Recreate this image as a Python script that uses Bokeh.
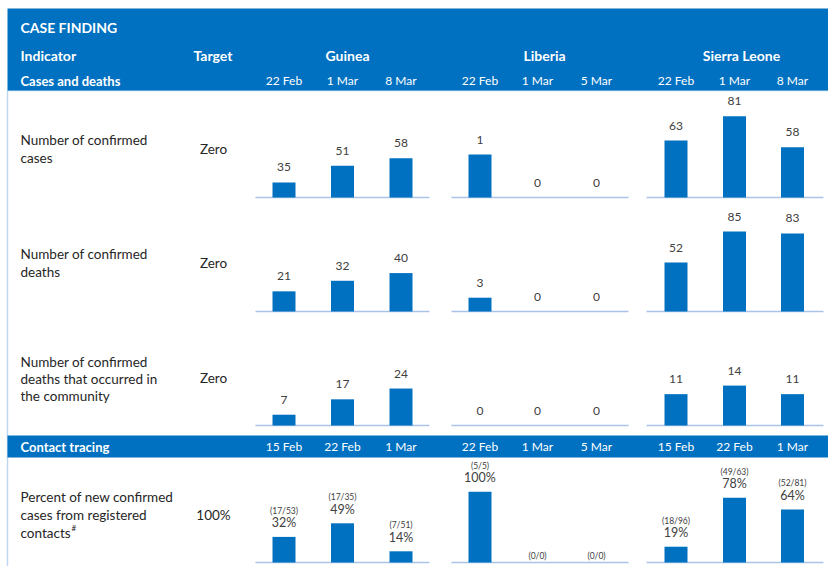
from bokeh.plotting import figure
from bokeh.models import Range1d, ColumnDataSource
from bokeh.embed import file_html
from bokeh.resources import INLINE
from bokeh.core.properties import value

# ---------------- data ----------------
countries = ["Guinea", "Liberia", "Sierra Leone"]
case_dates = [["22 Feb", "1 Mar", "8 Mar"], ["22 Feb", "1 Mar", "5 Mar"], ["22 Feb", "1 Mar", "8 Mar"]]
contact_dates = [["15 Feb", "22 Feb", "1 Mar"], ["22 Feb", "1 Mar", "5 Mar"], ["15 Feb", "22 Feb", "1 Mar"]]
indicators = [
    ["Number of confirmed", "cases"],
    ["Number of confirmed", "deaths"],
    ["Number of confirmed", "deaths that occurred in", "the community"],
    ["Percent of new confirmed", "cases from registered", "contacts"],
]
targets = ["Zero", "Zero", "Zero", "100%"]
confirmed_cases = [[35, 51, 58], [1, 0, 0], [63, 81, 58]]
confirmed_deaths = [[21, 32, 40], [3, 0, 0], [52, 85, 83]]
community_deaths = [[7, 17, 24], [0, 0, 0], [11, 14, 11]]
contacts_registered = [[17, 17, 7], [5, 0, 0], [18, 49, 52]]
contacts_new_cases = [[53, 35, 51], [5, 0, 0], [96, 63, 81]]
contacts_percent = [[32, 49, 14], [100, None, None], [19, 78, 64]]

# ---------------- layout / style ----------------
BLUE = "#0070C0"
AXIS = "#A9C4E6"
TXT = "#262626"
VAL = "#404040"
FONT = "Lato"

col_x = [[283.5, 342, 400.5], [479.5, 537, 596], [675.5, 734, 792]]
axis_extent = [(255, 429), (451, 628), (646, 823)]
country_x = [347, 544, 741]
row_base = [197, 311, 425, 562]
# (pixels per unit, axis minimum) for every panel
panel_scale = [
    [(1.05, 20.7), (43, 0), (1.35, 20.8)],
    [(0.96, 0), (4.6, 0), (0.94, 0)],
    [(1.54, 0), (1.5, 0), (2.85, 0)],
    [(0.80, 0), (0.707, 0), (0.83, 0)],
]
label_rows = [[139, 157], [253, 271], [361, 378, 395], [496, 514, 532]]
target_y = [148, 262, 377, 514]

W, H = 828, 566
TOP, BOTTOM = 0, H
p = figure(width=W, height=H, output_backend="svg", toolbar_location=None,
           x_range=Range1d(0, W), y_range=Range1d(BOTTOM, TOP),
           min_border=0, outline_line_color=None)
p.axis.visible = False
p.grid.visible = False
p.background_fill_color = "white"

# frame + header bands
p.quad(left=7, right=840, top=90, bottom=BOTTOM + 5, fill_color=None,
       line_color="#BDD7EE", line_width=1.5)
p.quad(left=7, right=840, top=8, bottom=90, fill_color=BLUE, line_color=None)
p.quad(left=7, right=840, top=435, bottom=457, fill_color=BLUE, line_color=None)


def txt(xs, ys, texts, size, color="white", bold=False, align="left", baseline="middle"):
    src = ColumnDataSource(dict(x=xs, y=ys, t=texts))
    p.text(x="x", y="y", text="t", source=src, text_font=value(FONT),
           text_font_size=size, text_color=color, text_align=align,
           text_baseline=baseline, text_font_style="bold" if bold else "normal")


# header texts
txt([20], [27], ["CASE FINDING"], "14px", bold=True)
txt([20, 193], [55, 55], ["Indicator", "Target"], "14px", bold=True, align="left")
txt(country_x, [55] * 3, countries, "14px", bold=True, align="center")
txt([20], [80], ["Cases and deaths"], "13px", bold=True)
txt([20], [446], ["Contact tracing"], "13px", bold=True)
for c in range(3):
    txt(col_x[c], [80] * 3, case_dates[c], "12px", align="center")
    txt(col_x[c], [446] * 3, contact_dates[c], "12px", align="center")

# indicator labels and targets
for r in range(4):
    txt([20] * len(indicators[r]), label_rows[r], indicators[r], "13.5px", color=TXT)
    txt([213], [target_y[r]], [targets[r]], "13.5px", color=TXT, align="center")
txt([20 + 51], [527], ["#"], "8px", color=TXT)

# bar panels
rows = [confirmed_cases, confirmed_deaths, community_deaths, contacts_percent]
for r in range(4):
    base = row_base[r]
    for c in range(3):
        ppu, vmin = panel_scale[r][c]
        name = "r%dc%d" % (r, c)
        p.extra_y_ranges[name] = Range1d(vmin + (base - BOTTOM) / ppu, vmin + (base - TOP) / ppu)
        lo, hi = axis_extent[c]
        p.segment(x0=[lo], x1=[hi], y0=[base], y1=[base], line_color=AXIS, line_width=1.5)
        vals = rows[r][c]
        xs = [x for x, v in zip(col_x[c], vals) if v is not None]
        vv = [v for v in vals if v is not None]
        tops = [max(v, vmin) for v in vv]
        src = ColumnDataSource(dict(x=xs, top=tops, bottom=[vmin] * len(xs)))
        p.vbar(x="x", top="top", bottom="bottom", width=23, source=src,
               fill_color=BLUE, line_color=None, y_range_name=name)
        if r < 3:
            lab = ColumnDataSource(dict(x=xs, y=[t + 15 / ppu for t in tops], t=[str(v) for v in vv]))
            p.text(x="x", y="y", text="t", source=lab, y_range_name=name,
                   text_font=value(FONT), text_font_size="12px", text_color=VAL,
                   text_align="center", text_baseline="middle")
        else:
            lab = ColumnDataSource(dict(x=xs, y=[t + 14 / ppu for t in tops],
                                        t=["%d%%" % v for v in vv]))
            p.text(x="x", y="y", text="t", source=lab, y_range_name=name,
                   text_font=value(FONT), text_font_size="12.5px", text_color=VAL,
                   text_align="center", text_baseline="middle")
            fr_y = []
            for v in vals:
                fr_y.append((max(v, vmin) + 26 / ppu) if v is not None else (vmin + 7 / ppu))
            fr = ColumnDataSource(dict(
                x=col_x[c], y=fr_y,
                t=["(%d/%d)" % (a, b) for a, b in zip(contacts_registered[c], contacts_new_cases[c])]))
            p.text(x="x", y="y", text="t", source=fr, y_range_name=name,
                   text_font=value(FONT), text_font_size="8.5px", text_color=VAL,
                   text_align="center", text_baseline="middle")

open("out.html", "w").write(file_html(p, INLINE))
